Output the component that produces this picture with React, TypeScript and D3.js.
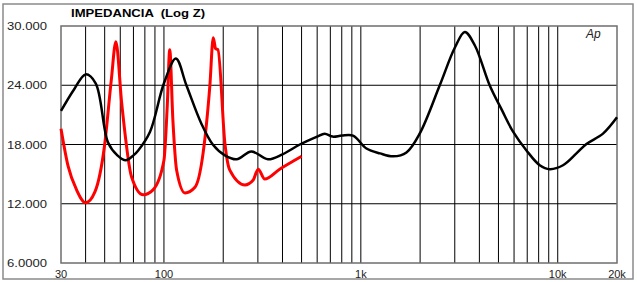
import React from "react";
import * as d3 from "d3";

// impedance curves (Hz, ohms)
const blackFreq = [30, 35, 40, 45, 52, 58, 64, 70, 74, 85, 100, 115, 130, 155, 177, 204, 234, 278, 337, 400, 490, 600, 655, 719, 800, 912, 1068, 1251, 1461, 1705, 1990, 2517, 3000, 3375, 3800, 4510, 5200, 5931, 6937, 8104, 9103, 10636, 12444, 13990, 16980, 20000];
const blackZ = [21.4, 23.6, 25.1, 24.2, 18.2, 16.9, 16.4, 16.9, 17.4, 19.3, 24.2, 26.7, 24.0, 20.1, 18.0, 16.9, 16.5, 17.3, 16.5, 17.0, 18.0, 18.8, 19.1, 18.8, 18.9, 18.9, 17.6, 17.1, 16.8, 17.2, 19.1, 24.0, 27.8, 29.4, 28.0, 24.0, 21.5, 19.3, 17.4, 15.9, 15.5, 15.9, 17.1, 18.05, 19.1, 20.75];

const redFreq = [30, 32.6, 36, 40, 44.6, 50, 54, 57, 61, 68.5, 78.5, 88, 100, 104, 107, 111, 116, 128, 144, 158, 171, 178, 183, 188, 204, 216, 258, 284, 301, 325, 387, 452, 500];
const redZ = [19.6, 15.8, 13.4, 12.1, 13.2, 18.0, 24.5, 28.4, 22.2, 14.7, 12.9, 13.4, 16.4, 22.0, 27.6, 20.5, 15.4, 13.1, 13.7, 17.1, 23.9, 28.8, 27.7, 27.6, 18.1, 15.4, 13.9, 14.4, 15.5, 14.5, 15.5, 16.3, 16.8];

const yTicks = [6, 12, 18, 24, 30];
const yLabels = ["6.0000", "12.000", "18.000", "24.000", "30.000"];
const xGrid = [40, 50, 60, 70, 80, 90, 100, 200, 300, 400, 500, 600, 700, 800, 900, 1000, 2000, 3000, 4000, 5000, 6000, 7000, 8000, 9000, 10000];
const xTicks = [30, 100, 1000, 10000, 20000];
const xLabels = ["30", "100", "1k", "10k", "20k"];

const W = 637;
const H = 282;
const plot = { left: 61, right: 617, top: 26, bottom: 263 };
const font = "Arial, 'Liberation Sans', sans-serif";

export default function App() {
  const x = d3.scaleLog().domain([30, 20000]).range([plot.left, plot.right]);
  const y = d3.scaleLinear().domain([6, 30]).range([plot.bottom, plot.top]);

  const line = (curve: d3.CurveFactory) =>
    d3
      .line<[number, number]>()
      .x((d) => x(d[0]))
      .y((d) => y(d[1]))
      .curve(curve);

  const black = line(d3.curveCatmullRom.alpha(0.5))(blackFreq.map((f, i) => [f, blackZ[i]]));
  const red = line(d3.curveMonotoneX)(redFreq.map((f, i) => [f, redZ[i]]));

  return (
    <svg width={W} height={H} style={{ position: "absolute", left: 0, top: 0 }}>
      <rect width={W} height={H} fill="#fff" />
      {/* outer frame */}
      <rect x={3} y={4} width={630} height={275} fill="none" stroke="#8a8a8a" strokeWidth={1.5} />

      <text
        x={71}
        y={17}
        fontFamily={font}
        fontSize={10.5}
        fontWeight="bold"
        fill="#000"
        textLength={134}
        lengthAdjust="spacingAndGlyphs"
        style={{ whiteSpace: "pre" }}
      >
        {"IMPEDANCIA  (Log Z)"}
      </text>

      {/* grid */}
      {xGrid.map((f) => (
        <line key={f} x1={x(f)} x2={x(f)} y1={plot.top} y2={plot.bottom} stroke="#000" strokeWidth={1} />
      ))}
      {yTicks.slice(1, -1).map((v) => (
        <line key={v} x1={plot.left} x2={plot.right} y1={y(v)} y2={y(v)} stroke="#000" strokeWidth={1} />
      ))}
      <rect
        x={plot.left}
        y={plot.top}
        width={plot.right - plot.left}
        height={plot.bottom - plot.top}
        fill="none"
        stroke="#6e6e6e"
        strokeWidth={1.5}
      />

      {/* axis labels */}
      {yTicks.map((v, i) => (
        <text
          key={v}
          x={7}
          y={y(v) + 4}
          fontFamily={font}
          fontSize={11}
          fill="#222"
          textLength={40}
          lengthAdjust="spacingAndGlyphs"
        >
          {yLabels[i]}
        </text>
      ))}
      {xTicks.map((f, i) => (
        <text key={f} x={x(f)} y={278} textAnchor="middle" fontFamily={font} fontSize={11} fill="#222">
          {xLabels[i]}
        </text>
      ))}

      <text x={586} y={38} fontFamily={font} fontSize={12} fontStyle="italic" fill="#222">
        Ap
      </text>

      <path d={red ?? ""} fill="none" stroke="#ff0000" strokeWidth={3} strokeLinejoin="round" />
      <path d={black ?? ""} fill="none" stroke="#000" strokeWidth={2.5} strokeLinejoin="round" />
    </svg>
  );
}
